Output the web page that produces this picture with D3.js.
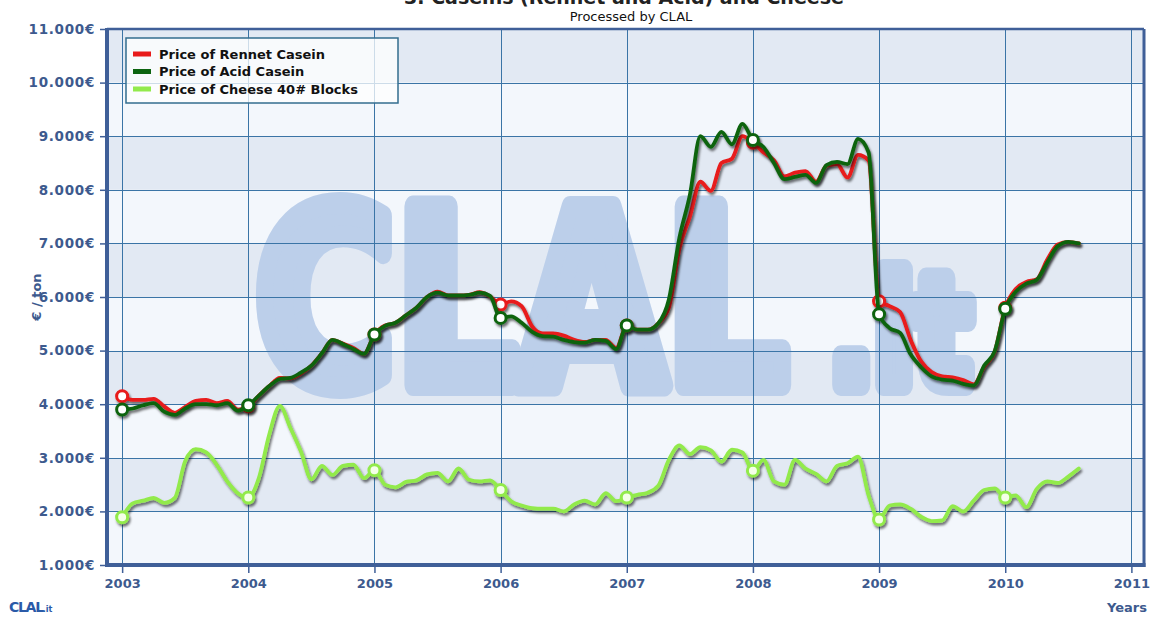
<!DOCTYPE html>
<html>
<head>
<meta charset="utf-8">
<script src="https://cdn.jsdelivr.net/npm/d3@7/dist/d3.min.js"></script>
<style>
  body { margin: 0; background: #fff; }
  svg { display: block; font-family: "DejaVu Sans", Verdana, sans-serif; }
</style>
</head>
<body>
<div id="chart"></div>
<script>
// monthly prices from Jan 2003, €/ton
const startYear = 2003;
const rennet = [
  4150, 4080, 4080, 4100, 3960, 3840, 3950, 4060, 4080, 4020, 4060, 3900,
  3960, 4160, 4340, 4490, 4480, 4570, 4720, 4950, 5200, 5130, 5050, 4940,
  5300, 5470, 5520, 5660, 5800, 6000, 6100, 6030, 6030, 6040, 6090, 6010,
  5860, 5920, 5830, 5450, 5320, 5320, 5280, 5200, 5160, 5200, 5200, 5050,
  5470, 5390, 5390, 5510, 5800, 6900, 7500, 8150, 7980, 8500, 8580, 9000,
  8880, 8700, 8550, 8250, 8320, 8350, 8150, 8450, 8480, 8230, 8650, 8550,
  5920, 5830, 5720, 5200, 4800, 4600, 4520, 4500, 4450, 4370, 4700, 4980,
  5800, 6150, 6280, 6330, 6700, 6980, 7030, 7000
];
const acid = [
  3900, 3920, 3980, 4020, 3860, 3800, 3920, 4000, 4000, 3980, 4020, 3880,
  3980, 4160, 4340, 4470, 4490, 4590, 4720, 4950, 5200, 5125, 5030, 4940,
  5300, 5460, 5520, 5660, 5800, 6000, 6080, 6030, 6030, 6040, 6080, 6020,
  5610, 5640, 5520, 5350, 5270, 5260, 5200, 5160, 5150, 5200, 5180, 5030,
  5470, 5390, 5390, 5510, 5950, 7100, 7900, 9000, 8800, 9080, 8850, 9230,
  8930, 8800, 8500, 8200, 8240, 8280, 8130, 8460, 8520, 8480, 8950, 8700,
  5680, 5420, 5330, 4930, 4690, 4520, 4460, 4440, 4380, 4350, 4720, 4990,
  5780, 6100, 6250, 6320, 6650, 6950, 7030, 7000
];
const cheese = [
  1890, 2150, 2200, 2250, 2160, 2250, 2940, 3160, 3100, 2870, 2560, 2340,
  2260, 2620, 3440, 3970, 3560, 3120, 2600, 2850, 2680, 2850, 2870, 2620,
  2770, 2500, 2450, 2550, 2580, 2690, 2720, 2560, 2800, 2590, 2560, 2580,
  2400, 2190, 2110, 2060, 2050, 2050, 2000, 2130, 2200, 2130, 2340, 2190,
  2260, 2310, 2350, 2480, 2960, 3230, 3070, 3200, 3140, 2930, 3150, 3100,
  2760, 2960, 2560, 2500, 2960, 2800, 2700, 2560, 2850, 2900, 3020, 2300,
  1850, 2110, 2130, 2050, 1900, 1820, 1830, 2100, 2000, 2200, 2400, 2430,
  2260, 2300, 2080, 2420, 2560, 2530, 2650, 2800
];
const seriesNames = ["Price of Rennet Casein", "Price of Acid Casein", "Price of Cheese 40# Blocks"];
const seriesColors = ["#e81a1a", "#0c6410", "#92ea4c"];
const yearTicks = [2003, 2004, 2005, 2006, 2007, 2008, 2009, 2010, 2011];
const priceTicks = [1000, 2000, 3000, 4000, 5000, 6000, 7000, 8000, 9000, 10000, 11000];

let drawChart = function() {
  let W = 1157, H = 617;
  let plot = {left: 107, top: 29, right: 1144, bottom: 565};
  let axisColor = '#3f5f98';
  let labelColor = '#3d5a8e';

  let svg = d3.select('#chart').append('svg')
    .attr('width', W).attr('height', H);

  let defs = svg.append('defs');
  defs.append('filter').attr('id', 'shadow')
      .attr('x', '-5%').attr('y', '-10%').attr('width', '110%').attr('height', '130%')
    .append('feDropShadow')
      .attr('dx', 1.5).attr('dy', 2.5).attr('stdDeviation', 1.3)
      .attr('flood-color', '#000').attr('flood-opacity', 0.55);
  defs.append('clipPath').attr('id', 'plotclip')
    .append('rect')
      .attr('x', plot.left).attr('y', plot.top)
      .attr('width', plot.right - plot.left).attr('height', plot.bottom - plot.top);

  let x = d3.scaleLinear()
    .domain([2003 - 0.12, 2011 + 0.1])
    .range([plot.left, plot.right]);
  let y = d3.scaleLinear()
    .domain([1000, 11000])
    .range([plot.bottom, plot.top]);

  // alternating bands
  svg.append('g').selectAll('rect')
    .data(priceTicks.slice(0, -1))
    .enter().append('rect')
      .attr('x', plot.left)
      .attr('y', d => y(d + 1000))
      .attr('width', plot.right - plot.left)
      .attr('height', d => y(d) - y(d + 1000))
      .attr('fill', (d, i) => i % 2 === 0 ? '#f3f7fc' : '#e2e9f3');

  // CLAL.it watermark, thickened with a round stroke
  let wm = svg.append('text')
    .attr('transform', 'translate(255,385) scale(0.785,1)')
    .attr('fill', '#bccfea').attr('stroke', '#bccfea')
    .attr('stroke-width', 22).attr('stroke-linejoin', 'round')
    .attr('font-weight', 'bold');
  wm.append('tspan').attr('font-size', 244).text('CLAL');
  wm.append('tspan').attr('font-size', 151).attr('dx', 52).text('.it');

  // grid
  let grid = svg.append('g').attr('stroke', '#3a74a6').attr('stroke-width', 1);
  grid.selectAll('.hg').data(priceTicks).enter().append('line')
    .attr('x1', plot.left).attr('x2', plot.right)
    .attr('y1', d => Math.round(y(d)) + 0.5).attr('y2', d => Math.round(y(d)) + 0.5);
  grid.selectAll('.vg').data(yearTicks).enter().append('line')
    .attr('y1', plot.top).attr('y2', plot.bottom)
    .attr('x1', d => Math.round(x(d)) + 0.5).attr('x2', d => Math.round(x(d)) + 0.5);

  // axes
  let fmt = v => d3.format(',')(v).replace(/,/g, '.') + '€';
  let yAxis = svg.append('g')
    .attr('transform', 'translate(' + plot.left + ',0)')
    .call(d3.axisLeft(y).tickValues(priceTicks).tickSize(7).tickPadding(5).tickFormat(fmt));
  let xAxis = svg.append('g')
    .attr('transform', 'translate(0,' + plot.bottom + ')')
    .call(d3.axisBottom(x).tickValues(yearTicks).tickSize(8).tickPadding(6).tickFormat(d3.format('d')));
  [yAxis, xAxis].forEach(function(a) {
    a.select('.domain').remove();
    a.selectAll('line').attr('stroke', axisColor).attr('stroke-width', 1.5);
    a.selectAll('text')
      .attr('fill', labelColor)
      .attr('font-size', 13)
      .attr('font-weight', 'bold')
      .attr('font-family', '"DejaVu Sans", Verdana, sans-serif');
  });
  yAxis.selectAll('text').attr('font-size', 13.5).attr('letter-spacing', 0.7);

  // series lines
  let line = d3.line()
    .x((d, i) => x(startYear + i / 12))
    .y(d => y(d))
    .curve(d3.curveMonotoneX);
  let series = [cheese, rennet, acid];
  let colorOf = [seriesColors[2], seriesColors[0], seriesColors[1]];
  let marks = svg.append('g').attr('clip-path', 'url(#plotclip)');
  series.forEach(function(data, k) {
    let g = marks.append('g').attr('filter', 'url(#shadow)');
    g.append('path')
      .datum(data)
      .attr('d', line)
      .attr('fill', 'none')
      .attr('stroke', colorOf[k])
      .attr('stroke-width', 3.8)
      .attr('stroke-linejoin', 'round')
      .attr('stroke-linecap', 'round');
    g.selectAll('circle')
      .data(data.map((v, i) => ({v: v, i: i})).filter(d => d.i % 12 === 0))
      .enter().append('circle')
        .attr('cx', d => x(startYear + d.i / 12))
        .attr('cy', d => y(d.v))
        .attr('r', 5.5)
        .attr('fill', k === 0 ? '#f4ffe8' : '#fff')
        .attr('stroke', colorOf[k])
        .attr('stroke-width', 3);
  });

  // frame
  let frame = svg.append('g').attr('stroke', axisColor).attr('fill', 'none');
  frame.append('line').attr('x1', plot.left).attr('x2', plot.right)
    .attr('y1', plot.top).attr('y2', plot.top).attr('stroke-width', 2.5);
  frame.append('line').attr('x1', plot.right).attr('x2', plot.right)
    .attr('y1', plot.top).attr('y2', plot.bottom + 2).attr('stroke-width', 3);
  frame.append('line').attr('x1', plot.left).attr('x2', plot.left)
    .attr('y1', plot.top - 1).attr('y2', plot.bottom + 2).attr('stroke-width', 4);
  frame.append('line').attr('x1', plot.left - 2).attr('x2', plot.right + 1.5)
    .attr('y1', plot.bottom).attr('y2', plot.bottom).attr('stroke-width', 4);

  // legend
  let legend = svg.append('g').attr('transform', 'translate(126,38)');
  legend.append('rect')
    .attr('width', 272).attr('height', 65)
    .attr('fill', '#fff').attr('fill-opacity', 0.75)
    .attr('stroke', '#336d8e').attr('stroke-width', 1.5);
  seriesNames.forEach(function(name, i) {
    let row = legend.append('g').attr('transform', 'translate(0,' + (16 + i * 17.5) + ')');
    row.append('rect')
      .attr('x', 7).attr('y', -2.5).attr('width', 18).attr('height', 5)
      .attr('fill', seriesColors[i]);
    row.append('text')
      .attr('x', 33).attr('dy', '0.36em')
      .attr('font-size', 13).attr('font-weight', 'bold').attr('fill', '#111')
      .text(name);
  });

  // titles (the main title is cut by the top edge, as in the original)
  svg.append('text')
    .attr('x', 624).attr('y', 4)
    .attr('text-anchor', 'middle')
    .attr('font-size', 19).attr('font-weight', 'bold').attr('fill', '#222')
    .text('3. Caseins (Rennet and Acid) and Cheese');
  svg.append('text')
    .attr('x', 631).attr('y', 21)
    .attr('text-anchor', 'middle')
    .attr('font-size', 13).attr('fill', '#111')
    .text('Processed by CLAL');

  // axis titles
  svg.append('text')
    .attr('transform', 'translate(41,297) rotate(-90)')
    .attr('text-anchor', 'middle')
    .attr('font-size', 13).attr('font-weight', 'bold').attr('fill', labelColor)
    .text('€ / ton');
  svg.append('text')
    .attr('x', 1147).attr('y', 612)
    .attr('text-anchor', 'end')
    .attr('font-size', 13).attr('font-weight', 'bold').attr('fill', labelColor)
    .text('Years');

  // small logo
  let logo = svg.append('text')
    .attr('x', 9).attr('y', 612)
    .attr('fill', '#2a5aa8').attr('font-weight', 'bold');
  logo.append('tspan').attr('font-size', 14).attr('letter-spacing', -1.3).text('CLAL');
  logo.append('tspan').attr('font-size', 8).text('.it');
};

drawChart();
</script>
</body>
</html>
